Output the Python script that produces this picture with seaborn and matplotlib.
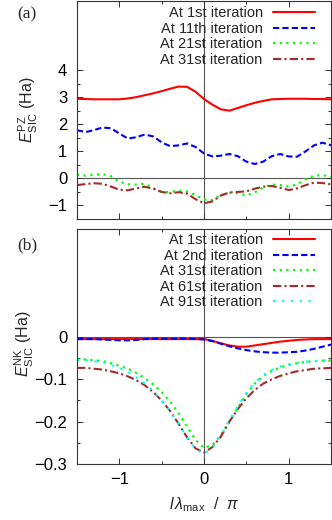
import numpy as np
import pandas as pd
import matplotlib
matplotlib.use("Agg")
import matplotlib.pyplot as plt
import seaborn as sns
from matplotlib.ticker import MultipleLocator, FixedLocator

# ---------------- data ----------------
x = [-1.5, -1.4, -1.3, -1.2, -1.1, -1.0, -0.9, -0.8, -0.7, -0.6, -0.5,
     -0.4, -0.3, -0.2, -0.1, 0.0, 0.1, 0.2, 0.3, 0.4, 0.5, 0.6, 0.7,
     0.8, 0.9, 1.0, 1.1, 1.2, 1.3, 1.4, 1.5]

# panel (a): PZ-SIC energy
pz_labels = ["At 1st iteration", "At 11th iteration", "At 21st iteration", "At 31st iteration"]
pz_it1 = [2.94, 2.93, 2.92, 2.92, 2.92, 2.92, 2.95, 3.00, 3.07, 3.14, 3.22,
          3.31, 3.39, 3.38, 3.20, 2.93, 2.72, 2.55, 2.50, 2.60, 2.70, 2.79, 2.86,
          2.92, 2.93, 2.94, 2.94, 2.94, 2.93, 2.93, 2.92]
pz_it11 = [1.78, 1.71, 1.78, 1.88, 1.85, 1.66, 1.47, 1.52, 1.62, 1.55, 1.33,
           1.19, 1.22, 1.29, 1.16, 0.92, 0.81, 0.84, 0.90, 0.82, 0.62, 0.53, 0.62,
           0.82, 0.90, 0.81, 0.80, 1.00, 1.22, 1.32, 1.22]
pz_it21 = [0.14, 0.10, 0.13, 0.16, 0.08, -0.12, -0.22, -0.23, -0.20, -0.36, -0.50,
           -0.50, -0.45, -0.49, -0.62, -0.78, -0.80, -0.62, -0.53, -0.55, -0.63, -0.52, -0.33,
           -0.23, -0.25, -0.30, -0.22, -0.03, 0.10, 0.12, 0.06]
pz_it31 = [-0.25, -0.21, -0.18, -0.20, -0.30, -0.42, -0.44, -0.37, -0.31, -0.38, -0.50,
           -0.55, -0.51, -0.56, -0.77, -0.92, -0.85, -0.63, -0.52, -0.50, -0.48, -0.38, -0.31,
           -0.28, -0.35, -0.43, -0.37, -0.25, -0.16, -0.17, -0.22]

# panel (b): NK-SIC energy
nk_labels = ["At 1st iteration", "At 2nd iteration", "At 31st iteration",
             "At 61st iteration", "At 91st iteration"]
nk_it1 = [-0.005, -0.005, -0.005, -0.005, -0.005, -0.005, -0.005, -0.005, -0.005, -0.005, -0.005,
          -0.005, -0.005, -0.005, -0.005, -0.005, -0.009, -0.015, -0.020, -0.023, -0.023, -0.020, -0.017,
          -0.014, -0.011, -0.009, -0.007, -0.006, -0.005, -0.005, -0.005]
nk_it2 = [-0.005, -0.005, -0.005, -0.006, -0.007, -0.008, -0.008, -0.007, -0.005, -0.004, -0.004,
          -0.004, -0.004, -0.004, -0.005, -0.006, -0.010, -0.016, -0.022, -0.027, -0.031, -0.034, -0.036,
          -0.037, -0.037, -0.036, -0.035, -0.032, -0.028, -0.023, -0.018]
nk_it31 = [-0.053, -0.053, -0.055, -0.057, -0.062, -0.068, -0.075, -0.085, -0.097, -0.112, -0.130,
           -0.153, -0.180, -0.212, -0.243, -0.262, -0.255, -0.232, -0.200, -0.167, -0.135, -0.110, -0.092,
           -0.080, -0.072, -0.066, -0.062, -0.059, -0.057, -0.056, -0.056]
nk_it61 = [-0.073, -0.073, -0.075, -0.077, -0.081, -0.086, -0.093, -0.102, -0.114, -0.130, -0.150,
           -0.175, -0.205, -0.237, -0.263, -0.273, -0.260, -0.235, -0.200, -0.170, -0.145, -0.125, -0.110,
           -0.100, -0.092, -0.086, -0.081, -0.078, -0.075, -0.074, -0.073]
nk_it91 = [-0.055, -0.055, -0.057, -0.060, -0.066, -0.073, -0.083, -0.095, -0.110, -0.128, -0.150,
           -0.175, -0.205, -0.237, -0.265, -0.276, -0.262, -0.232, -0.197, -0.163, -0.132, -0.108, -0.090,
           -0.078, -0.070, -0.065, -0.061, -0.058, -0.057, -0.056, -0.055]

xticks = [-1, 0, 1]
xticklabels = ["\u22121", "0", "1"]
pz_yticks = [-1, 0, 1, 2, 3, 4]
pz_yticklabels = ["\u22121", "0", "1", "2", "3", "4"]
nk_yticks = [-0.3, -0.2, -0.1, 0.0]
nk_yticklabels = ["\u22120.3", "\u22120.2", "\u22120.1", "0"]

# ---------------- style ----------------
sns.set_style("ticks")
plt.rcParams["font.family"] = ["Liberation Sans", "DejaVu Sans"]
plt.rcParams["mathtext.fontset"] = "custom"
plt.rcParams["mathtext.rm"] = "Liberation Sans"
plt.rcParams["mathtext.it"] = "Liberation Sans:italic"
plt.rcParams["mathtext.bf"] = "Liberation Sans:bold"

FS_LEG = 10.5
FS_TICK = 12
FS_LAB = 11.5

fig = plt.figure(figsize=(3.32, 5.20), dpi=100)
ax_a = fig.add_axes([77/332, 1 - 219/520, 254/332, 218/520])
ax_b = fig.add_axes([77/332, 1 - 464/520, 254/332, 235/520])

colors = ["#ff0000", "#0000ff", "#00ff00", "#a52a2a", "#00ffff"]
styles = ["-", (0, (3.0, 1.5)), (0, (1.0, 2.0)), (0, (4.0, 1.5, 1.0, 1.5)), (0, (1.0, 3.0))]
lws = [1.5, 1.5, 1.6, 1.5, 1.6]


def draw(ax, series, labels):
    df = pd.DataFrame({"x": x})
    for i, (vals, lab) in enumerate(zip(series, labels)):
        df[lab] = vals
        sns.lineplot(data=df, x="x", y=lab, ax=ax, color=colors[i],
                     linestyle=styles[i], lw=lws[i], label=lab)


draw(ax_a, [pz_it1, pz_it11, pz_it21, pz_it31], pz_labels)
draw(ax_b, [nk_it1, nk_it2, nk_it31, nk_it61, nk_it91], nk_labels)

for ax, top in ((ax_a, 0.995), (ax_b, 1.0)):
    ax.axvline(0, color="#555555", lw=0.8, zorder=0)
    ax.axhline(0, color="#555555", lw=0.8, zorder=0)
    ax.set_xlim(-1.5, 1.5)
    ax.xaxis.set_major_locator(FixedLocator(xticks))
    ax.xaxis.set_minor_locator(MultipleLocator(0.5))
    ax.tick_params(which="both", direction="in", top=True, right=True,
                   labelsize=FS_TICK, colors="#333333", labelcolor="black", width=0.7)
    ax.tick_params(which="major", length=4)
    ax.tick_params(which="minor", length=2.2)
    ax.tick_params(axis="x", which="major", pad=6)
    ax.tick_params(axis="y", which="major", pad=7)
    for sp in ax.spines.values():
        sp.set_color("#333333")
        sp.set_linewidth(0.8)
    ax.set_xlabel("")
    leg = ax.legend(loc="upper right", frameon=False, markerfirst=False,
                    fontsize=FS_LEG, handlelength=2.9, handletextpad=0.7,
                    labelspacing=0.1, borderaxespad=0.0, borderpad=0.3,
                    bbox_to_anchor=(0.955, top))
    for t in leg.get_texts():
        t.set_ha("right")

ax_a.set_ylim(-1.5, 6.55)
ax_a.yaxis.set_major_locator(FixedLocator(pz_yticks))
ax_a.yaxis.set_minor_locator(FixedLocator([-1.5, -0.5, 0.5, 1.5, 2.5, 3.5]))
ax_a.set_yticklabels(pz_yticklabels)
ax_a.set_xticklabels([])
ax_a.set_ylabel(r"$E^{\rm PZ}_{\rm SIC}$ (Ha)", fontsize=FS_LAB)
ax_a.yaxis.set_label_coords(-0.145, 0.5)

ax_b.set_ylim(-0.3, 0.255)
ax_b.yaxis.set_major_locator(FixedLocator(nk_yticks))
ax_b.yaxis.set_minor_locator(FixedLocator([-0.25, -0.15, -0.05]))
ax_b.set_yticklabels(nk_yticklabels)
ax_b.set_xticklabels(xticklabels)
ax_b.set_ylabel(r"$E^{\rm NK}_{\rm SIC}$ (Ha)", fontsize=FS_LAB)
ax_b.yaxis.set_label_coords(-0.16, 0.51)
ax_b.set_xlabel(r"$l\,\lambda_{\rm max}$  /  $\pi$", fontsize=FS_LAB, labelpad=6)

fig.text(27/332, 1 - 14/520, "(a)", family=["Liberation Serif"], fontsize=12.5,
         ha="center", va="center")
fig.text(27/332, 1 - 245/520, "(b)", family=["Liberation Serif"], fontsize=12.5,
         ha="center", va="center")

fig.savefig("out.png", dpi=100)
